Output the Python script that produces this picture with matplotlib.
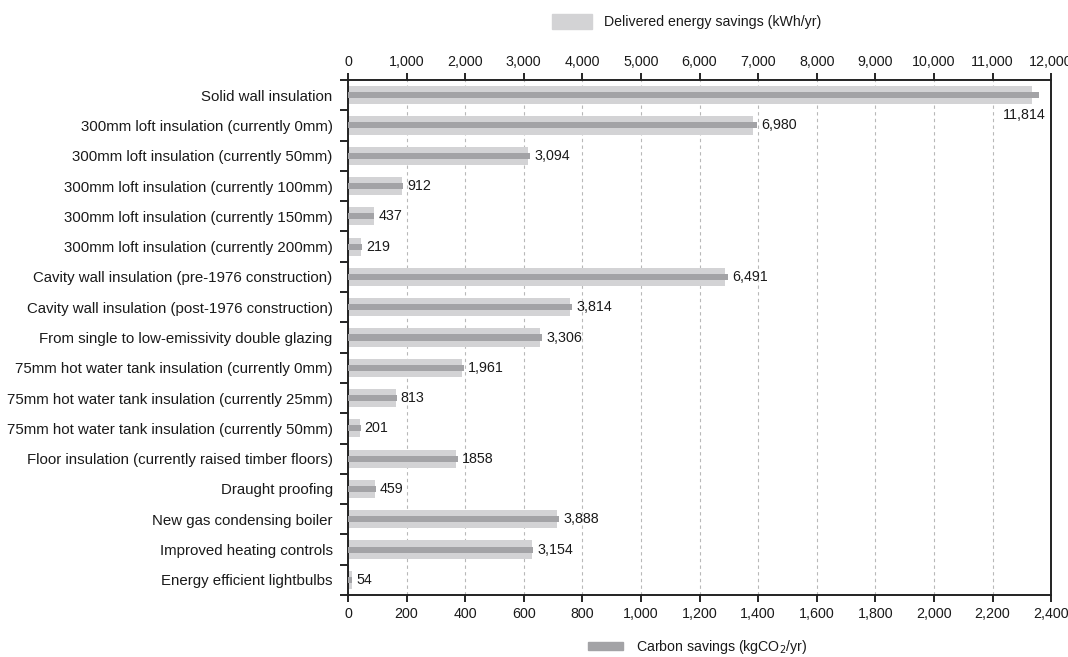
import matplotlib.pyplot as plt
import numpy as np
from matplotlib.patches import Patch

plt.rcParams['font.family'] = ['Liberation Sans', 'DejaVu Sans']
plt.rcParams['font.size'] = 10

# Measures, top to bottom
measures = [
    "Solid wall insulation",
    "300mm loft insulation (currently 0mm)",
    "300mm loft insulation (currently 50mm)",
    "300mm loft insulation (currently 100mm)",
    "300mm loft insulation (currently 150mm)",
    "300mm loft insulation (currently 200mm)",
    "Cavity wall insulation (pre-1976 construction)",
    "Cavity wall insulation (post-1976 construction)",
    "From single to low-emissivity double glazing",
    "75mm hot water tank insulation (currently 0mm)",
    "75mm hot water tank insulation (currently 25mm)",
    "75mm hot water tank insulation (currently 50mm)",
    "Floor insulation (currently raised timber floors)",
    "Draught proofing",
    "New gas condensing boiler",
    "Improved heating controls",
    "Energy efficient lightbulbs",
]

# Delivered energy savings (kWh/yr)
energy = [11680, 6910, 3068, 922, 449, 227, 6431, 3785, 3278,
          1951, 819, 205, 1849, 466, 3563, 3136, 68]

# Carbon savings (kgCO2/yr)
carbon = [2359, 1395, 621, 187, 89, 47, 1298, 766, 663,
          396, 166, 43, 375, 95, 720, 632, 15]

# Value labels as printed on the chart
value_labels = ["11,814", "6,980", "3,094", "912", "437", "219", "6,491",
                "3,814", "3,306", "1,961", "813", "201", "1858", "459",
                "3,888", "3,154", "54"]

light = "#d3d3d5"
dark = "#a3a3a6"
txt = "#1a1a1a"

fig = plt.figure(figsize=(10.68, 6.57), dpi=100)
ax2 = fig.add_axes([0.3258, 0.0944, 0.6584, 0.7838])  # energy axis (top)
ax = ax2.twiny()  # carbon axis (bottom)
ax.xaxis.set_ticks_position('bottom')
ax.xaxis.set_label_position('bottom')
ax2.xaxis.set_ticks_position('top')

# carbon bars must sit on top of the energy bars
ax.set_zorder(ax2.get_zorder() + 1)
ax.patch.set_visible(False)

y = np.arange(len(measures))

ax2.barh(y, energy, height=0.6, color=light, zorder=2)
ax.barh(y, carbon, height=0.2, color=dark, zorder=3)

for i, (c, lab) in enumerate(zip(carbon, value_labels)):
    if i == 0:
        ax.annotate(lab, (c, i), xytext=(5, -14), textcoords='offset points',
                    ha='right', va='center', fontsize=10.3, color=txt)
    else:
        ax.annotate(lab, (c, i), xytext=(3, 0), textcoords='offset points',
                    ha='left', va='center', fontsize=10.3, color=txt)

ax2.set_ylim(len(measures) - 0.5, -0.5)
for a in (ax, ax2):
    for s in a.spines.values():
        s.set_color("#222222")
        s.set_linewidth(1.2)

ax2.set_xlim(0, 12000)
ax.set_xlim(0, 2400)
ax2.set_xticks(np.arange(0, 12001, 1000))
ax.set_xticks(np.arange(0, 2401, 200))
ax2.xaxis.set_major_formatter(plt.FuncFormatter(lambda v, p: f"{v:,.0f}"))
ax.xaxis.set_major_formatter(plt.FuncFormatter(lambda v, p: f"{v:,.0f}"))
ax2.tick_params(axis='x', direction='out', length=5, width=1.2,
                labelsize=10.3, labelcolor=txt, pad=3)
ax.tick_params(axis='x', direction='out', length=5, width=1.2,
               labelsize=10.3, labelcolor=txt, pad=4)

ax2.grid(axis='x', linestyle=(0, (3, 3)), color="#b8b8b8", linewidth=0.8, zorder=0)
ax2.set_axisbelow(True)

ax2.set_yticks(y)
ax2.set_yticklabels(measures, fontsize=10.8, color=txt)
ax2.tick_params(axis='y', which='major', length=0, pad=11)
ax2.set_yticks(np.arange(-0.5, len(measures) + 0.5, 1), minor=True)
ax2.tick_params(axis='y', which='minor', direction='out', length=6, width=1.2)

leg1 = fig.legend(handles=[Patch(color=light, label="Delivered energy savings (kWh/yr)")],
                  loc='center', bbox_to_anchor=(0.643, 0.967), frameon=False,
                  handlelength=2.8, handleheight=1.2, handletextpad=0.9,
                  fontsize=10.2, labelcolor=txt)
leg2 = fig.legend(handles=[Patch(color=dark, label="Carbon savings (kgCO$_2$/yr)")],
                  loc='center', bbox_to_anchor=(0.653, 0.015), frameon=False,
                  handlelength=2.5, handleheight=0.5, handletextpad=0.9,
                  fontsize=10.2, labelcolor=txt)

fig.savefig("out.png", dpi=100)
